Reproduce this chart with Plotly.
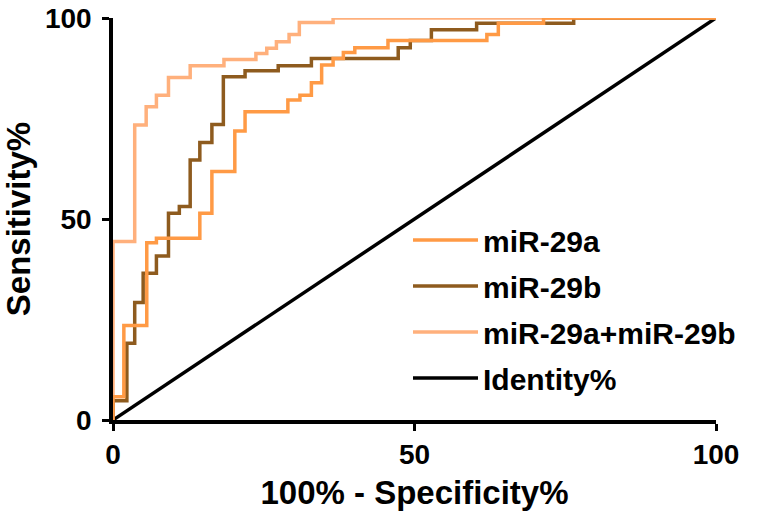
import plotly.graph_objects as go

# ROC step vertices (100% - Specificity%, Sensitivity%)
fpr_29a = [0, 0, 1.8, 5.6, 7.2, 14.4, 16.4, 20.2, 21.9, 29.0, 31.0, 32.9, 34.6, 36.5, 38.2, 40.1, 45.6, 62.0, 63.9, 71.4, 100]
sens_29a = [0, 5.8, 23.5, 44.1, 45.2, 51.4, 61.8, 71.9, 76.7, 79.6, 80.8, 83.9, 88.3, 89.9, 91.4, 92.6, 94.4, 95.9, 98.7, 100, 100]

fpr_29b = [0, 0, 2.3, 3.6, 5.0, 7.2, 9.2, 11.0, 12.8, 14.4, 16.4, 18.3, 21.9, 27.4, 32.9, 47.3, 49.3, 52.8, 60.3, 76.4, 100]
sens_29b = [0, 4.8, 19.1, 29.2, 36.5, 40.8, 51.4, 53.1, 64.7, 69.0, 73.5, 85.4, 86.9, 88.1, 89.9, 92.6, 94.4, 97.1, 98.7, 100, 100]

fpr_comb = [0, 0, 3.6, 5.5, 7.2, 9.2, 12.8, 18.4, 23.7, 25.5, 27.1, 29.2, 30.9, 36.5, 100]
sens_comb = [0, 44.4, 73.4, 77.9, 80.8, 85.2, 88.1, 89.7, 91.2, 92.5, 94.1, 95.9, 98.9, 100, 100]

identity_x = [0, 100]
identity_y = [0, 100]

tick_vals = [0, 50, 100]
tick_text = ["0", "50", "100"]

C_29A = "#FF9A45"
C_29B = "#8E5B1E"
C_COMB = "#FFB07C"

FONT = "Liberation Sans, Arial, sans-serif"
LW = 3.5

fig = go.Figure()
fig.add_trace(go.Scatter(x=identity_x, y=identity_y, mode="lines", name="Identity%",
                         line=dict(color="black", width=LW), legendgroup="d", legendrank=4))
fig.add_trace(go.Scatter(x=fpr_comb, y=sens_comb, mode="lines", name="miR-29a+miR-29b",
                         line=dict(color=C_COMB, width=LW, shape="hv"), legendgroup="c", legendrank=3))
fig.add_trace(go.Scatter(x=fpr_29b, y=sens_29b, mode="lines", name="miR-29b",
                         line=dict(color=C_29B, width=LW, shape="hv"), legendgroup="b", legendrank=2))
fig.add_trace(go.Scatter(x=fpr_29a, y=sens_29a, mode="lines", name="miR-29a",
                         line=dict(color=C_29A, width=LW, shape="hv"), legendgroup="a", legendrank=1))

axis_common = dict(
    range=[0, 100], tickvals=tick_vals, ticktext=tick_text, automargin=False,
    showgrid=False, zeroline=False, showline=True, linecolor="black", linewidth=3.5,
    ticks="outside", ticklen=7, tickwidth=3, tickcolor="black",
    tickfont=dict(family=FONT, size=28, color="black", weight="bold"),
)

fig.update_layout(
    width=760, height=522,
    margin=dict(l=113, r=44, t=18, b=102),
    paper_bgcolor="white", plot_bgcolor="white",
    font=dict(family=FONT, color="black"),
    xaxis=dict(**axis_common,
               title=dict(text="<b>100% - Specificity%</b>", font=dict(family=FONT, size=33, color="black"), standoff=13)),
    yaxis=dict(**axis_common, ticklabelstandoff=5,
               title=dict(text="<b>Sensitivity%</b>", font=dict(family=FONT, size=33, color="black"), standoff=22)),
    legend=dict(x=(408 - 113) / 603, xanchor="left", y=(420 - 214) / 402, yanchor="top",
                font=dict(family=FONT, size=30, color="black", weight="bold"),
                bgcolor="rgba(0,0,0,0)", itemwidth=65, traceorder="grouped", tracegroupgap=4),
    showlegend=True,
)

fig.write_html("out.html", config={"displayModeBar": False},
               post_script="document.body.style.margin='0';")
